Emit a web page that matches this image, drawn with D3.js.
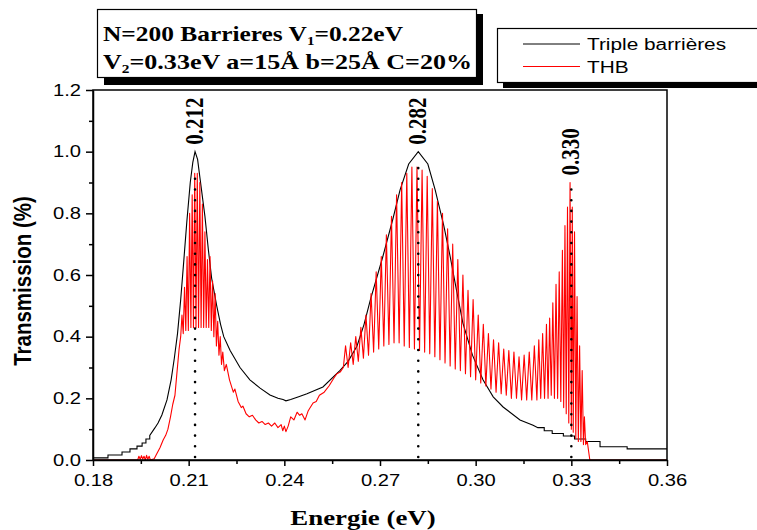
<!DOCTYPE html>
<html><head><meta charset="utf-8">
<script src="https://cdn.jsdelivr.net/npm/d3@7"></script>
<style>body{margin:0;background:#fff}svg{display:block}</style>
</head><body>
<svg id="c" width="757" height="530"></svg>
<script>
// ---------- DATA ----------
const xTicks = [0.18, 0.21, 0.24, 0.27, 0.30, 0.33, 0.36];
const xTickLabels = ["0.18", "0.21", "0.24", "0.27", "0.30", "0.33", "0.36"];
const xMinor = [0.195, 0.225, 0.255, 0.285, 0.315, 0.345];
const yTicks = [0.0, 0.2, 0.4, 0.6, 0.8, 1.0, 1.2];
const yTickLabels = ["0.0", "0.2", "0.4", "0.6", "0.8", "1.0", "1.2"];
const yMinor = [0.1, 0.3, 0.5, 0.7, 0.9, 1.1];
const seriesNames = ["Triple barrières", "THB"];
const seriesColors = ["#000000", "#ff0000"];

const blackE = [0.1800,0.1847,0.1847,0.1891,0.1891,0.1916,0.1916,0.1938,0.1938,0.1954,0.1954,0.1966,0.1966,0.1978,0.1978,
 0.1994,0.2004,0.2016,0.2032,0.2045,0.2055,0.2065,0.2075,0.2085,0.2094,0.2105,0.2113,0.2120,0.2128,0.2136,0.2151,0.2162,0.2172,
 0.2188,0.2200,0.2210,0.2230,0.2261,0.2292,0.2324,0.2355,0.2380,0.2396,0.2405,0.2420,0.2445,0.2471,0.2521,0.2574,0.2600,0.2628,0.2650,
 0.2670,0.2709,0.2740,0.2763,0.2790,0.2820,0.2850,0.2873,0.2900,0.2920,0.2940,0.2960,0.2990,0.3023,0.3055,0.3086,0.3139,0.3180,
 0.3195,0.3215,0.3215,0.3240,0.3240,0.3275,0.3275,0.3310,0.3310,0.3345,0.3345,0.3390,0.3390,0.3475,0.3475,0.3600];
const blackT = [0.007,0.007,0.016,0.016,0.026,0.026,0.036,0.036,0.045,0.045,0.055,0.055,0.068,0.068,0.080,
 0.104,0.120,0.146,0.195,0.260,0.330,0.410,0.520,0.650,0.770,0.900,0.965,1.000,0.975,0.910,0.790,0.680,0.590,
 0.500,0.440,0.400,0.355,0.300,0.260,0.233,0.211,0.200,0.196,0.192,0.196,0.205,0.215,0.237,0.290,0.320,0.370,0.440,
 0.520,0.660,0.780,0.876,0.960,1.000,0.960,0.876,0.760,0.660,0.550,0.444,0.340,0.260,0.205,0.172,0.130,0.113,
 0.105,0.105,0.095,0.095,0.086,0.086,0.078,0.078,0.068,0.068,0.060,0.060,0.043,0.043,0.036,0.036];

const redE = [0.1800,0.1940,0.1944,0.1948,0.1952,0.1956,0.1960,0.1964,0.1968,0.1972,0.1976,0.1980,0.1992,0.2000,0.2010,0.2020,
 0.2028,0.2035,0.2043,0.2050,0.2057,0.2063,0.2070,0.2075,
 0.2079,0.2083,0.2087,0.2091,0.2095,0.2099,0.2103,0.2107,0.2111,0.2115,0.2119,0.2123,0.2127,0.2131,0.2135,0.2139,0.2143,0.2147,
 0.2151,0.2155,0.2159,0.2163,0.2167,0.2171,0.2175,0.2179,0.2183,0.2187,0.2191,0.2195,0.2199,0.2203,0.2207,0.2212,0.2218,0.2228,
 0.2240,0.2245,0.2255,0.2265,0.2270,0.2280,0.2290,0.2300,0.2310,0.2320,0.2330,0.2340,0.2350,0.2360,0.2370,0.2380,
 0.2390,0.2395,0.2400,0.2405,0.2412,0.2420,0.2430,0.2440,0.2448,0.2455,0.2465,0.2475,0.2490,0.2500,0.2510,0.2525,0.2540,0.2555,
 0.2565,0.2575,0.2585,
 0.2592,0.2600,0.2608,0.2616,0.2624,0.2632,0.2640,0.2648,0.2656,0.2664,0.2672,0.2680,0.2688,0.2696,0.2704,0.2712,0.2720,0.2728,
 0.2736,0.2744,0.2752,0.2760,0.2768,0.2776,0.2784,0.2792,0.2800,0.2808,0.2816,0.2824,0.2832,0.2840,0.2848,0.2856,0.2864,0.2872,
 0.2880,0.2888,0.2896,0.2904,0.2912,0.2920,0.2928,0.2936,0.2944,0.2952,0.2960,0.2968,0.2976,0.2984,0.2992,0.3000,0.3008,0.3016,
 0.3024,0.3032,0.3040,0.3048,0.3056,0.3064,0.3072,0.3080,0.3088,0.3096,0.3104,0.3112,0.3120,0.3128,0.3136,0.3144,0.3152,0.3160,
 0.3168,0.3176,0.3184,0.3192,
 0.3198,0.3204,0.3210,0.3216,0.3222,0.3227,0.3232,0.3237,0.3242,0.3247,0.3252,0.3257,0.3262,0.3267,0.3272,0.3276,0.3280,0.3284,
 0.3288,0.3292,0.3296,0.3300,0.3303,0.3306,0.3310,0.3314,0.3318,0.3322,0.3326,0.3330,0.3334,0.3338,0.3341,0.3345,0.3350,0.3358,0.3600];
const redT = [0.000,0.000,0.012,0.002,0.014,0.003,0.012,0.000,0.015,0.002,0.012,0.000,0.004,0.020,0.040,0.065,
 0.080,0.100,0.140,0.180,0.210,0.280,0.360,0.400,
 0.47,0.41,0.56,0.42,0.66,0.42,0.80,0.43,0.86,0.43,0.93,0.43,0.93,0.43,0.90,0.43,0.83,0.43,
 0.74,0.43,0.65,0.43,0.66,0.42,0.58,0.40,0.54,0.37,0.45,0.34,0.40,0.31,0.35,0.29,0.31,0.26,
 0.22,0.23,0.19,0.17,0.175,0.15,0.14,0.145,0.13,0.12,0.125,0.115,0.12,0.11,0.12,0.105,
 0.115,0.095,0.11,0.092,0.11,0.14,0.13,0.155,0.145,0.150,0.130,0.160,0.185,0.190,0.210,0.220,0.240,0.265,
 0.280,0.285,0.300,
 0.37,0.30,0.38,0.31,0.40,0.32,0.43,0.33,0.47,0.34,0.54,0.35,0.61,0.36,0.66,0.37,0.73,0.375,
 0.79,0.38,0.86,0.38,0.90,0.37,0.93,0.365,0.95,0.36,0.95,0.355,0.94,0.35,0.92,0.345,0.88,0.335,
 0.84,0.325,0.80,0.315,0.75,0.305,0.70,0.295,0.65,0.29,0.60,0.28,0.55,0.27,0.52,0.26,0.47,0.25,
 0.44,0.24,0.41,0.23,0.39,0.22,0.38,0.215,0.36,0.21,0.355,0.20,0.35,0.20,0.335,0.195,0.34,0.195,
 0.35,0.195,0.37,0.195,
 0.39,0.20,0.41,0.20,0.44,0.20,0.46,0.21,0.51,0.20,0.57,0.20,0.61,0.19,0.68,0.17,0.76,0.15,
 0.82,0.12,0.90,0.10,0.82,0.09,0.74,0.07,0.53,0.06,0.37,0.06,0.29,0.05,0.14,0.05,0.06,0.00,0.00];

const peakE = [0.212, 0.282, 0.330];
const peakLabels = ["0.212", "0.282", "0.330"];
const peakMax = [1.0, 1.0, 0.90];
const dotTop = [0.93, 0.98, 0.90];

const titleX = "Energie (eV)";
const titleY = "Transmission (%)";

// ---------- CHART ----------
const svg = d3.select("#c");
const M = {left: 93, right: 667, top: 90, bottom: 460};
const x = d3.scaleLinear().domain([0.18, 0.36]).range([M.left, M.right]);
const y = d3.scaleLinear().domain([0, 1.2]).range([M.bottom, M.top]);

function stretch(sel, f) {
  sel.each(function () {
    const w = this.getComputedTextLength();
    d3.select(this).attr("textLength", w * f).attr("lengthAdjust", "spacingAndGlyphs");
  });
}

// curves
const line = d3.line().x(d => x(d[0])).y(d => y(d[1]));
svg.append("path").datum(d3.zip(blackE, blackT)).attr("d", line)
  .attr("fill", "none").attr("stroke", seriesColors[0]).attr("stroke-width", 1.1);
svg.append("path").datum(d3.zip(redE, redT)).attr("d", line)
  .attr("fill", "none").attr("stroke", seriesColors[1]).attr("stroke-width", 1.1).attr("stroke-linejoin", "round");

// dotted peak lines
svg.selectAll("line.peak").data(peakE).join("line").attr("class", "peak")
  .attr("x1", d => x(d)).attr("x2", d => x(d))
  .attr("y1", y(0) - 3).attr("y2", (d, i) => y(dotTop[i]))
  .attr("stroke", "#000").attr("stroke-width", 2.6)
  .attr("stroke-linecap", "round").attr("stroke-dasharray", "0 10.7");

// peak labels
svg.selectAll("text.plab").data(peakE).join("text").attr("class", "plab")
  .attr("transform", (d, i) => `translate(${x(d) + 8},${y(peakMax[i]) - 7}) scale(1.2,1) rotate(-90)`)
  .attr("font-family", "Liberation Serif, Times New Roman, serif")
  .attr("font-weight", "bold").attr("font-size", 21)
  .text((d, i) => peakLabels[i]);

// frame
svg.append("rect").attr("x", M.left).attr("y", M.top)
  .attr("width", M.right - M.left).attr("height", M.bottom - M.top)
  .attr("fill", "none").attr("stroke", "#000").attr("stroke-width", 1.5);

// x axis
const gx = svg.append("g").attr("transform", `translate(0,${M.bottom})`)
  .call(d3.axisBottom(x).tickValues(xTicks).tickFormat((d, i) => xTickLabels[i]).tickSizeInner(6).tickSizeOuter(0).tickPadding(6));
svg.append("g").attr("transform", `translate(0,${M.bottom})`)
  .call(d3.axisBottom(x).tickValues(xMinor).tickFormat("").tickSizeInner(4).tickSizeOuter(0))
  .call(g => g.select(".domain").remove());
// y axis
const gy = svg.append("g").attr("transform", `translate(${M.left},0)`)
  .call(d3.axisLeft(y).tickValues(yTicks).tickFormat((d, i) => yTickLabels[i]).tickSizeInner(7).tickSizeOuter(0).tickPadding(5));
svg.append("g").attr("transform", `translate(${M.left},0)`)
  .call(d3.axisLeft(y).tickValues(yMinor).tickFormat("").tickSizeInner(4).tickSizeOuter(0))
  .call(g => g.select(".domain").remove());

svg.selectAll(".tick line, .domain").attr("stroke", "#000").attr("stroke-width", 1.5);
svg.selectAll(".tick text").attr("font-family", "Liberation Sans, Arial, sans-serif")
  .attr("font-size", 16).attr("fill", "#000");
gx.selectAll(".tick text").attr("dy", "0.9em");
stretch(svg.selectAll(".tick text"), 1.26);

// axis titles
const tx = svg.append("text").attr("x", (M.left + M.right) / 2 - 17).attr("y", 525)
  .attr("text-anchor", "middle").attr("font-family", "Liberation Serif, Times New Roman, serif")
  .attr("font-weight", "bold").attr("font-size", 22).text(titleX);
stretch(tx, 1.22);
svg.append("text").attr("transform", `translate(31,281) scale(1.15,1) rotate(-90)`)
  .attr("text-anchor", "middle").attr("font-family", "Liberation Sans, Arial, sans-serif")
  .attr("font-weight", "bold").attr("font-size", 20.5).text(titleY);

// info box
svg.append("rect").attr("x", 104).attr("y", 14).attr("width", 379).attr("height", 71).attr("fill", "#000");
svg.append("rect").attr("x", 97.5).attr("y", 9.5).attr("width", 379).attr("height", 68)
  .attr("fill", "#fff").attr("stroke", "#000").attr("stroke-width", 1.2);
const info = svg.append("g").attr("font-family", "Liberation Serif, Times New Roman, serif")
  .attr("font-weight", "bold").attr("font-size", 22).attr("fill", "#000");
const l1 = info.append("text").attr("x", 103).attr("y", 41);
l1.append("tspan").text("N=200 Barrieres V");
l1.append("tspan").attr("font-size", 13).attr("dy", 4).text("1");
l1.append("tspan").attr("dy", -4).text("=0.22eV");
const l2 = info.append("text").attr("x", 103).attr("y", 69);
l2.append("tspan").text("V");
l2.append("tspan").attr("font-size", 13).attr("dy", 4).text("2");
l2.append("tspan").attr("dy", -4).text("=0.33eV a=15Å b=25Å C=20%");
l1.attr("textLength", 300).attr("lengthAdjust", "spacingAndGlyphs");
l2.attr("textLength", 369).attr("lengthAdjust", "spacingAndGlyphs");

// legend
svg.append("rect").attr("x", 503).attr("y", 33).attr("width", 280).attr("height", 55).attr("fill", "#000");
svg.append("rect").attr("x", 497.5).attr("y", 28.5).attr("width", 280).attr("height", 54)
  .attr("fill", "#fff").attr("stroke", "#000").attr("stroke-width", 1.2);
const lg = svg.selectAll("g.leg").data(seriesNames).join("g").attr("class", "leg")
  .attr("transform", (d, i) => `translate(523,${44 + i * 22.5})`);
lg.append("line").attr("x1", 0).attr("x2", 57).attr("stroke", (d, i) => seriesColors[i]).attr("stroke-width", 1);
const lt = lg.append("text").attr("x", 64).attr("y", 6).attr("font-family", "Liberation Sans, Arial, sans-serif")
  .attr("font-size", 16).attr("fill", "#000").text(d => d);
stretch(lt, 1.3);
</script>
</body></html>
